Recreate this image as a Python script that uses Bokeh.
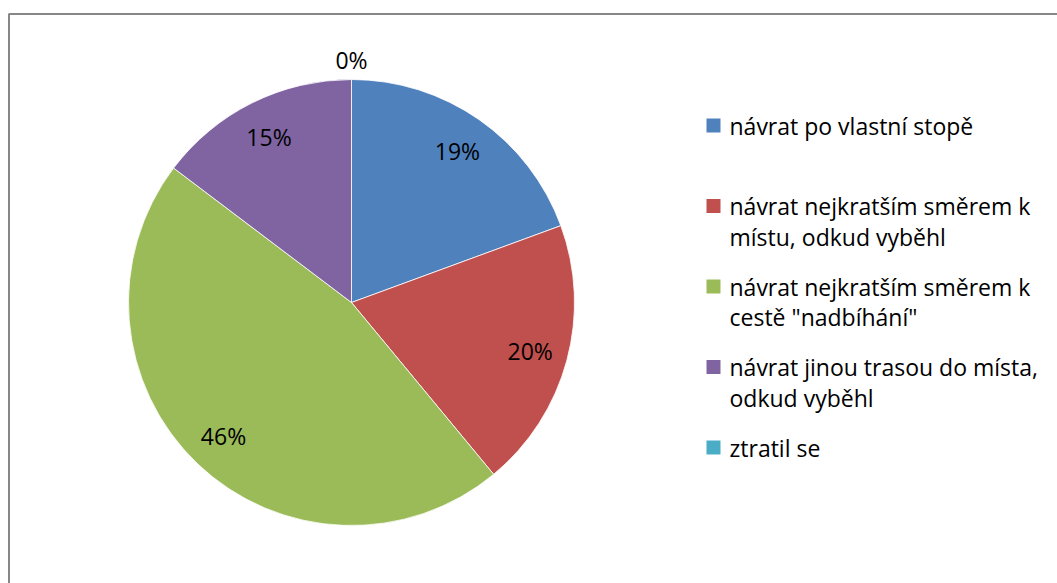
import math
from bokeh.plotting import figure
from bokeh.models import Range1d, ColumnDataSource
from bokeh.core.properties import value
from bokeh.embed import file_html
from bokeh.resources import INLINE

# ---- data ----
categories = [
    "návrat po vlastní stopě",
    "návrat nejkratším směrem k\nmístu, odkud vyběhl",
    "návrat nejkratším směrem k\ncestě \"nadbíhání\"",
    "návrat jinou trasou do místa,\nodkud vyběhl",
    "ztratil se",
]
shares = [19.4, 19.6, 46.3, 14.7, 0.0]
colors = ["#4F81BD", "#C0504D", "#9BBB59", "#8064A2", "#4BACC6"]

W, H = 1057, 583
FONT = "Open Sans"
FS = "23px"

p = figure(width=W, height=H, x_range=Range1d(0, W), y_range=Range1d(0, H),
           x_axis_type=None, y_axis_type=None, min_border=0,
           toolbar_location=None, output_backend="svg")
p.grid.visible = False
p.outline_line_color = None
p.background_fill_color = "white"
p.border_fill_color = "white"

# chart frame (cropped at right/bottom as in the reference)
p.quad(left=[8.5], right=[W + 10], bottom=[-10], top=[H - 13.5],
       fill_color=None, line_color="#878787", line_width=2)

# pie
cx, cy, R = 351, H - 302, 223
total = sum(shares)
ws, we, wc = [], [], []
lx, ly, labels = [], [], []
cum = 0.0
for s, c in zip(shares, colors):
    a0 = math.pi / 2 - cum / total * 2 * math.pi
    cum += s
    a1 = math.pi / 2 - cum / total * 2 * math.pi
    if s > 0:
        ws.append(a0)
        we.append(a1)
        wc.append(c)
    mid = (a0 + a1) / 2
    rr = 0.83 * R if s > 0 else R + 20
    lx.append(cx + rr * math.cos(mid))
    ly.append(cy + rr * math.sin(mid))
    labels.append(f"{round(s)}%")

src = ColumnDataSource(dict(start=ws, end=we, color=wc))
p.wedge(x=cx, y=cy, radius=R, start_angle="start", end_angle="end",
        direction="clock", fill_color="color", line_color="white",
        line_width=0.8, source=src)

p.text(x=lx, y=ly, text=labels, text_align="center", text_baseline="middle",
       text_font=value(FONT), text_font_size=FS, text_color="#000000")

# legend
leg_x, leg_y0, leg_step, line_h, sq = 706, H - 125, 80.5, 30.5, 14
tx, ty, tt = [], [], []
for i, (cat, col) in enumerate(zip(categories, colors)):
    yc = leg_y0 - i * leg_step
    p.rect(x=leg_x + sq / 2, y=yc, width=sq, height=sq, fill_color=col, line_color=None)
    for j, line in enumerate(cat.split("\n")):
        tx.append(leg_x + 23)
        ty.append(yc - j * line_h)
        tt.append(line)

p.text(x=tx, y=ty, text=tt, text_align="left", text_baseline="middle",
       text_font=value(FONT), text_font_size=FS, text_color="#000000")

open("out.html", "w").write(file_html(p, INLINE))
